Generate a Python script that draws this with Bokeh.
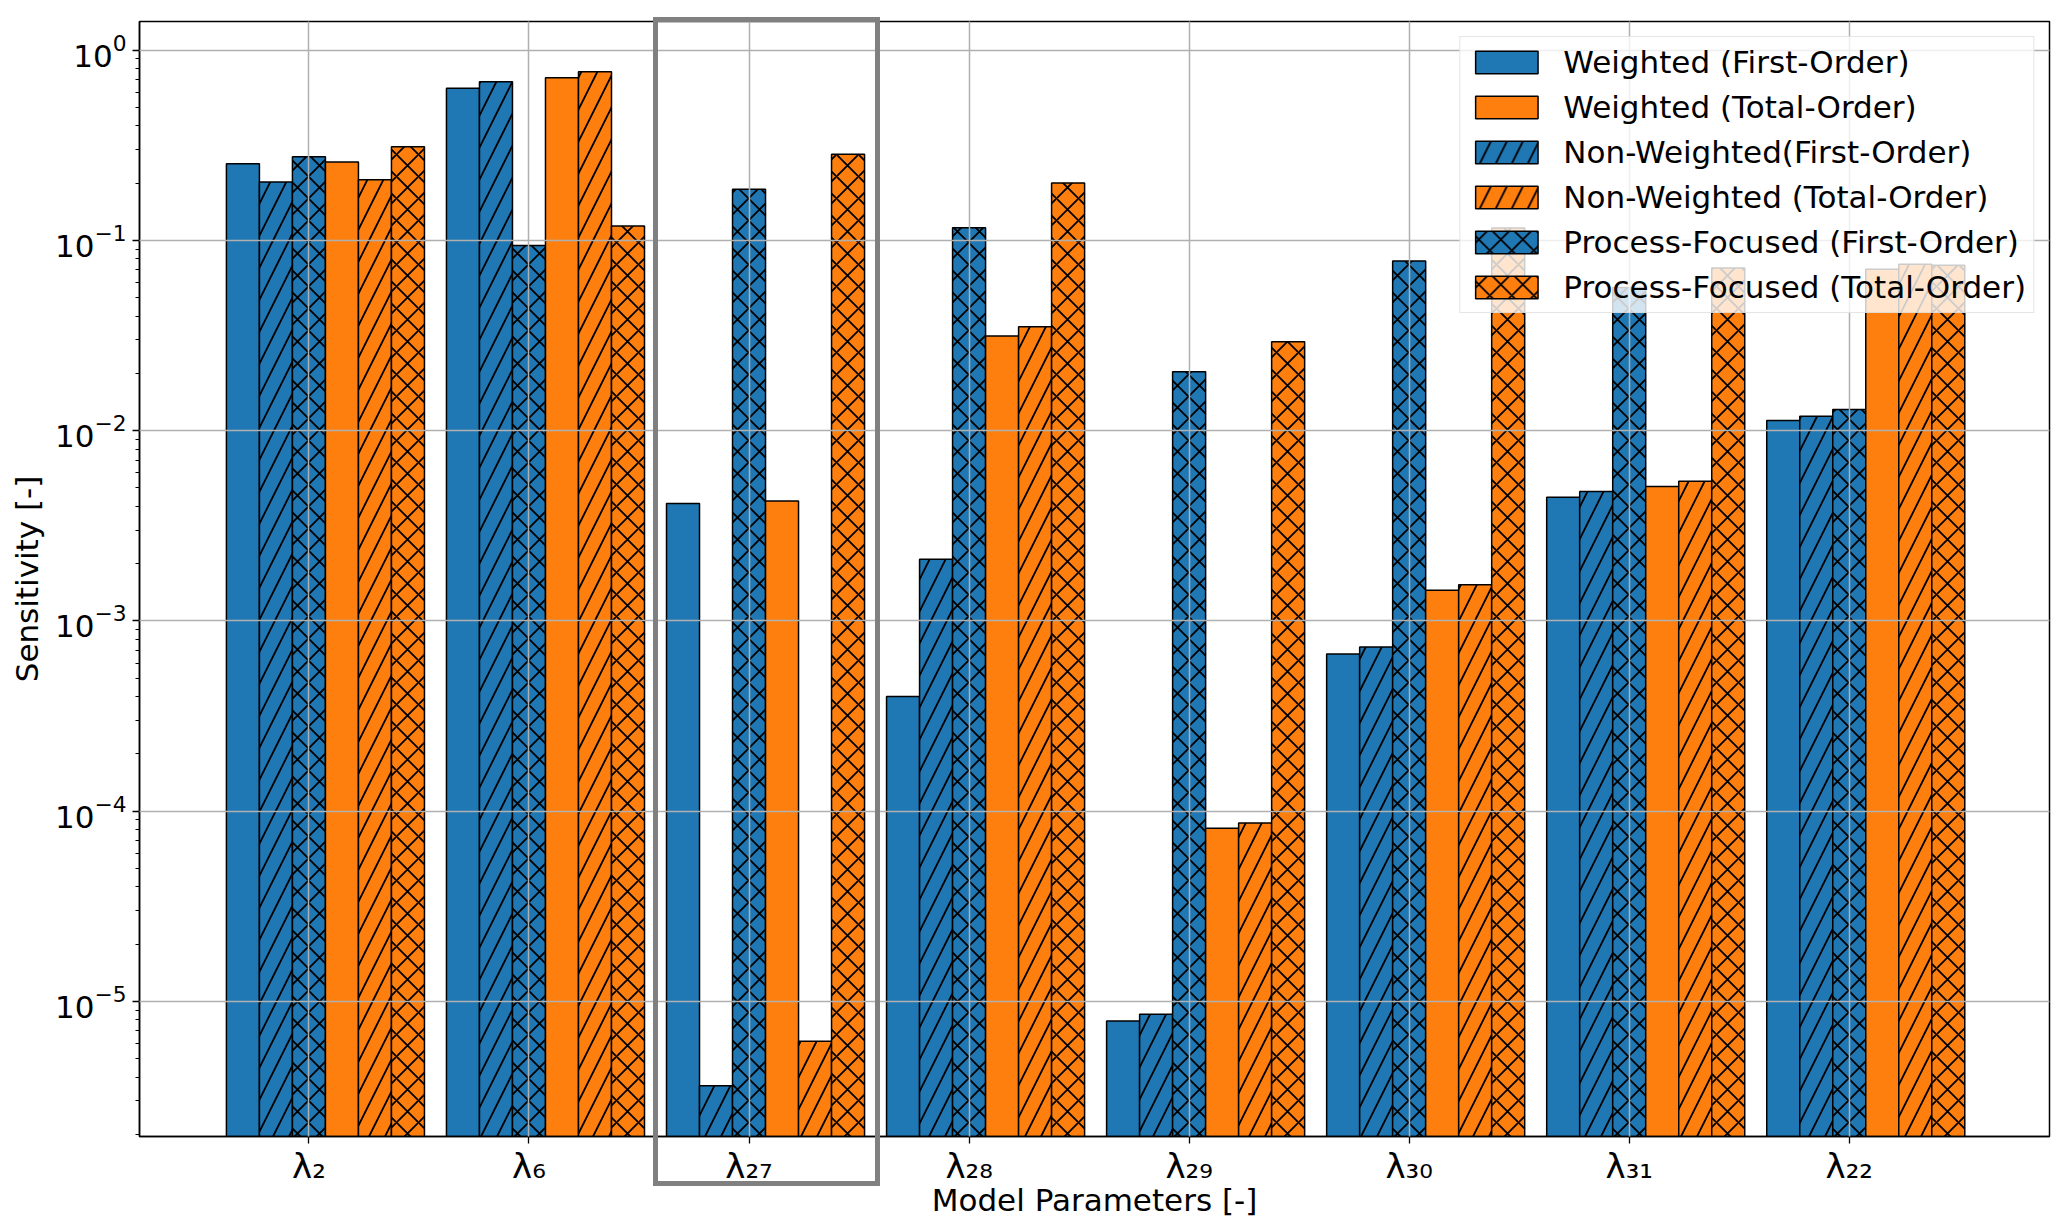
import numpy as np
from bokeh.plotting import figure
from bokeh.models import (Range1d, FixedTicker, Legend, LegendItem, Div)
from bokeh.layouts import column
from bokeh.embed import file_html
from bokeh.resources import INLINE

# ---- data ----
categories = ["λ₂", "λ₆", "λ₂₇", "λ₂₈", "λ₂₉", "λ₃₀", "λ₃₁", "λ₂₂"]
weighted_first = [0.253, 0.631, 4.14e-3, 4.0e-4, 7.9e-6, 6.7e-4, 4.47e-3, 0.0113]
nonweighted_first = [0.203, 0.681, 3.6e-6, 2.11e-3, 8.57e-6, 7.3e-4, 4.79e-3, 0.0119]
process_first = [0.275, 0.094, 0.1855, 0.1165, 0.0204, 0.078, 0.0565, 0.0129]
weighted_total = [0.258, 0.715, 4.27e-3, 0.0314, 8.13e-5, 1.45e-3, 5.09e-3, 0.0705]
nonweighted_total = [0.208, 0.769, 6.18e-6, 0.0352, 8.67e-5, 1.55e-3, 5.42e-3, 0.075]
process_total = [0.311, 0.119, 0.2835, 0.2, 0.0293, 0.116, 0.0716, 0.074]

legend_labels = ["Weighted (First-Order)", "Weighted (Total-Order)",
                 "Non-Weighted(First-Order)", "Non-Weighted (Total-Order)",
                 "Process-Focused (First-Order)", "Process-Focused (Total-Order)"]

BLUE = "#1f77b4"
ORANGE = "#ff7f0e"
FONT = "DejaVu Sans"
FS = "31px"
BAR_W = 0.15

# (values, colour, hatch, offset index, legend position)
series = [
    (weighted_first, BLUE, None, -2, 0),
    (nonweighted_first, BLUE, "/", -1, 2),
    (process_first, BLUE, "x", 0, 4),
    (weighted_total, ORANGE, None, 1, 1),
    (nonweighted_total, ORANGE, "/", 2, 3),
    (process_total, ORANGE, "x", 3, 5),
]

x_idx = np.arange(len(categories))

p = figure(width=2051, height=1230,
           x_range=Range1d(-0.77, 7.91), y_range=Range1d(1.95e-6, 1.414),
           y_axis_type="log", output_backend="svg", toolbar_location=None,
           min_border_left=139, min_border_right=2, min_border_top=21,
           min_border_bottom=94)
p.background_fill_color = "white"
p.border_fill_color = "white"

renderers = [None] * 6
for vals, col, hatch, off, lpos in series:
    kw = dict(x=x_idx + off * BAR_W, top=vals, bottom=1e-9, width=BAR_W,
              fill_color=col, line_color="black", line_width=1.5)
    if hatch is not None:
        kw.update(hatch_pattern=hatch, hatch_color="black",
                  hatch_scale=32 if hatch == "/" else 22, hatch_weight=1.8)
    r = p.vbar(**kw)
    renderers[lpos] = r

# axes
p.xaxis.ticker = FixedTicker(ticks=list(range(len(categories))))
p.xaxis.major_label_overrides = {i: c for i, c in enumerate(categories)}
p.xaxis.minor_tick_line_color = None
p.yaxis.ticker = FixedTicker(
    ticks=[10.0 ** e for e in range(-5, 1)],
    minor_ticks=[m * 10.0 ** e for e in range(-6, 1) for m in range(2, 10)])

p.xaxis.axis_label = "Model Parameters [-]"
p.yaxis.axis_label = "Sensitivity [-]"
for ax in (p.xaxis, p.yaxis):
    ax.axis_label_text_font = FONT
    ax.axis_label_text_font_size = FS
    ax.axis_label_text_font_style = "normal"
    ax.axis_label_text_color = "black"
    ax.major_label_text_font = FONT
    ax.major_label_text_font_size = FS
    ax.major_label_text_color = "black"
    ax.axis_line_color = "black"
    ax.axis_line_width = 1.5
    ax.major_tick_line_color = "black"
    ax.major_tick_line_width = 1.3
    ax.major_tick_in = 0
    ax.major_tick_out = 7
    ax.minor_tick_in = 0
    ax.minor_tick_out = 4
    ax.minor_tick_line_width = 1.1
p.xaxis.major_label_text_font_size = "34px"
p.xaxis.major_label_standoff = 2
p.yaxis.major_label_standoff = 6
p.xaxis.axis_label_standoff = -7
p.yaxis.axis_label_standoff = 7

p.outline_line_color = "black"
p.outline_line_width = 1.5

p.grid.grid_line_color = "#b0b0b0"
p.grid.grid_line_width = 1.5
p.grid.level = "guide"
p.ygrid.minor_grid_line_color = None

legend = Legend(items=[LegendItem(label=legend_labels[i], renderers=[renderers[i]])
                       for i in range(6)],
                location="top_right")
legend.label_text_font = FONT
legend.label_text_font_size = FS
legend.label_text_color = "black"
legend.glyph_width = 78
legend.glyph_height = 28
legend.label_standoff = 18
legend.spacing = 9
legend.padding = 7
legend.margin = 15
legend.border_line_color = "#cccccc"
legend.border_line_width = 1.5
legend.background_fill_color = "white"
legend.background_fill_alpha = 0.8
p.add_layout(legend)

# highlight frame around the λ27 group; it reaches below the plot frame,
# so it is an overlay box positioned over the canvas
box = Div(text="", width=227, height=1169,
          styles={"position": "absolute", "left": "648px", "top": "12px",
                  "width": "227px", "height": "1169px",
                  "border": "5px solid #808080", "box-sizing": "border-box",
                  "pointer-events": "none", "z-index": "10",
                  "background": "transparent"})

layout = column(p, box)
open("out.html", "w").write(file_html(layout, INLINE))
